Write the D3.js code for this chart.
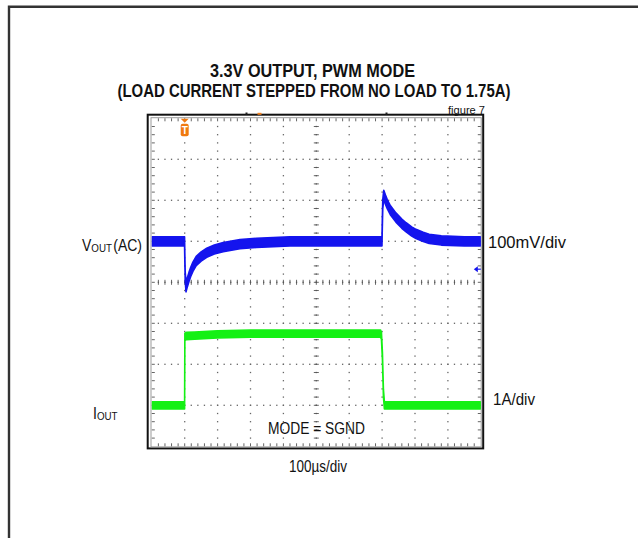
<!DOCTYPE html>
<html><head><meta charset="utf-8">
<script src="https://cdn.jsdelivr.net/npm/d3@7"></script>
<style>html,body{margin:0;padding:0;background:#fff;}svg{display:block;}</style>
</head><body>
<svg id="chart" width="638" height="538"></svg>
<script>
// ---- data (time in µs, Vout deviation in mV, Iout in A) ----
const voutTime = [0, 99.6, 100.4, 101.5, 104, 108, 113, 118, 125, 135, 150, 167, 190, 217, 268, 318, 420, 699.6, 700.6, 702, 705, 710, 716, 725, 742, 760, 773, 790, 803, 825, 843, 880, 950, 1000];
const voutMv   = [0, 0, -40, -85, -112, -100, -87, -75, -62, -48, -37, -28, -20, -14, -7, -4, 0, 0, 40, 90, 113, 102, 90, 76, 58, 43, 34, 24, 18, 11, 6, 2, 0, 0];
const ioutTime = [0, 99.7, 100.5, 105, 130, 200, 300, 500, 695, 698, 701, 704, 707, 1000];
const ioutA    = [0, 0, 1.67, 1.69, 1.70, 1.73, 1.75, 1.75, 1.75, 1.7, 1.2, 0.3, 0, 0];
const titleLines = ["3.3V OUTPUT, PWM MODE", "(LOAD CURRENT STEPPED FROM NO LOAD TO 1.75A)"];
const timeDivLabel = "100\u00b5s/div";
const voltDivLabel = "100mV/div";
const ampDivLabel = "1A/div";
const modeLabel = "MODE = SGND";
const figLabel = "figure 7";
const xDivs = 10, yDivs = 8;

// ---- layout ----
const svg = d3.select("#chart");
const L = 151.8, R = 480.8, T = 118.3, B = 446.3;
const x = d3.scaleLinear().domain([0, 1000]).range([L, R]);
const yV = d3.scaleLinear().domain([-500, 300]).range([B, T]);   // 100 mV/div, 0 mV at +1 div
const yI = d3.scaleLinear().domain([-1, 7]).range([B, T]);       // 1 A/div, 0 A at -3 div
const gx = d3.scaleLinear().domain([0, xDivs]).range([L, R]);
const gy = d3.scaleLinear().domain([0, yDivs]).range([T, B]);

// page frame
svg.append("path").attr("d", "M9,538V6.8H638").attr("fill", "none").attr("stroke", "#333").attr("stroke-width", 2.4);

// scope frame
svg.append("rect").attr("x", 147.7).attr("y", 114.7).attr("width", 483.2 - 147.7).attr("height", 448.4 - 114.7)
  .attr("fill", "none").attr("stroke", "#111").attr("stroke-width", 2);
svg.append("rect").attr("x", L - 0.8).attr("y", T - 0.6).attr("width", R - L + 1.2).attr("height", B - T + 1.2)
  .attr("fill", "none").attr("stroke", "#999").attr("stroke-width", 1);

const grid = svg.append("g");
// dotted graticule
const minorX = d3.range(1, xDivs * 5).map(k => k / 5);
const minorY = d3.range(1, yDivs * 5).map(k => k / 5);
const dots = [];
d3.range(1, xDivs).forEach(i => minorY.forEach(v => dots.push([gx(i), gy(v)])));
d3.range(1, yDivs).forEach(j => minorX.forEach(v => dots.push([gx(v), gy(j)])));
grid.selectAll("rect.dot").data(dots).join("rect").attr("class", "dot")
  .attr("x", d => d[0] - 0.65).attr("y", d => d[1] - 0.65).attr("width", 1.3).attr("height", 1.3).attr("fill", "#666");
// edge ticks
const tk = [];
minorX.forEach(v => { tk.push([gx(v), T, gx(v), T + 3]); tk.push([gx(v), B, gx(v), B - 3]); tk.push([gx(v), gy(4) - 2.5, gx(v), gy(4) + 2.5]); });
minorY.forEach(v => { tk.push([L, gy(v), L + 3, gy(v)]); tk.push([R, gy(v), R - 3, gy(v)]); tk.push([gx(5) - 2.5, gy(v), gx(5) + 2.5, gy(v)]); });
grid.selectAll("line.tk").data(tk).join("line").attr("class", "tk")
  .attr("x1", d => d[0]).attr("y1", d => d[1]).attr("x2", d => d[2]).attr("y2", d => d[3])
  .attr("stroke", "#555").attr("stroke-width", 0.9);

// top markers
svg.append("rect").attr("x", 245.5).attr("y", 112.5).attr("width", 2).attr("height", 2).attr("fill", "#222");
svg.append("rect").attr("x", 385.5).attr("y", 112.5).attr("width", 2).attr("height", 2).attr("fill", "#222");
svg.append("rect").attr("x", 257.5).attr("y", 112.8).attr("width", 4).attr("height", 2).attr("fill", "#f08020");

// clip
svg.append("clipPath").attr("id", "clip").append("rect").attr("x", L).attr("y", T).attr("width", R - L).attr("height", B - T);

// traces drawn as noise bands of fixed vertical thickness
const iData = ioutTime.map((t, i) => [t, ioutA[i]]);
const vData = voutTime.map((t, i) => [t, voutMv[i]]);
function band(data, ys, half, color) {
  svg.append("path").datum(data).attr("clip-path", "url(#clip)")
    .attr("d", d3.area().x(d => x(d[0])).y0(d => ys(d[1]) + half).y1(d => ys(d[1]) - half))
    .attr("fill", color).attr("stroke", color).attr("stroke-width", 1.6).attr("stroke-linejoin", "round");
}
band(iData, yI, 3.6, "#14f014");
band(vData, yV, 4.6, "#1414ee");

// trigger marker
const tx = x(100);
svg.append("path").attr("d", `M${tx - 4},${T + 0.5}L${tx + 4},${T + 0.5}L${tx},${T + 4.5}Z`).attr("fill", "#f07a10");
svg.append("rect").attr("x", tx - 4).attr("y", T + 5.5).attr("width", 8).attr("height", 12.5).attr("rx", 2).attr("fill", "#f07a10");
svg.append("text").attr("x", tx).attr("y", T + 15.5).attr("text-anchor", "middle").attr("fill", "#fff")
  .attr("font-family", "Liberation Sans, Arial, sans-serif").attr("font-weight", "bold").attr("font-size", 10).text("T");

// offset arrow (right)
const ay = gy(4) - 0.32 * 41;
svg.append("path").attr("d", `M${R - 7},${ay}L${R - 3},${ay - 3}L${R - 3},${ay + 3}Z`).attr("fill", "#1414ee");
svg.append("line").attr("x1", R - 4).attr("x2", R).attr("y1", ay).attr("y2", ay).attr("stroke", "#1414ee").attr("stroke-width", 1.2);

// text
const FF = "Liberation Sans, Arial, sans-serif";
function label(txt, xx, yy, len, size, opts = {}) {
  const t = svg.append("text").attr("x", xx).attr("y", yy).attr("font-family", FF).attr("font-size", size)
    .attr("fill", "#111").attr("text-anchor", opts.anchor || "start").text(txt);
  if (opts.bold) t.attr("font-weight", "bold");
  if (len) t.attr("textLength", len).attr("lengthAdjust", "spacingAndGlyphs");
  return t;
}
label(titleLines[0], 312.5, 76.5, 205, 17.5, { bold: true, anchor: "middle" });
label(titleLines[1], 314, 96.5, 393, 17.5, { bold: true, anchor: "middle" });
label(figLabel, 485, 114, 37, 11, { anchor: "end" });
label(voltDivLabel, 488, 247.5, 78, 16.5);
label(ampDivLabel, 493, 405, 42, 16.5);
label(modeLabel, 268, 434, 97, 16.5);
label(timeDivLabel, 289, 472, 58, 16);

function subLabel(main, sub, tail, xx, yy) {
  const t = svg.append("text").attr("transform", `translate(${xx},${yy}) scale(0.85,1)`)
    .attr("font-family", FF).attr("font-size", 16.5).attr("fill", "#111");
  t.append("tspan").text(main);
  t.append("tspan").attr("font-size", 11.5).attr("dy", 1).text(sub);
  if (tail) t.append("tspan").attr("dy", -1).attr("dx", 1.5).text(tail);
}
subLabel("V", "OUT", "(AC)", 82, 250.5);
subLabel("I", "OUT", null, 93, 419);
</script>
</body></html>
